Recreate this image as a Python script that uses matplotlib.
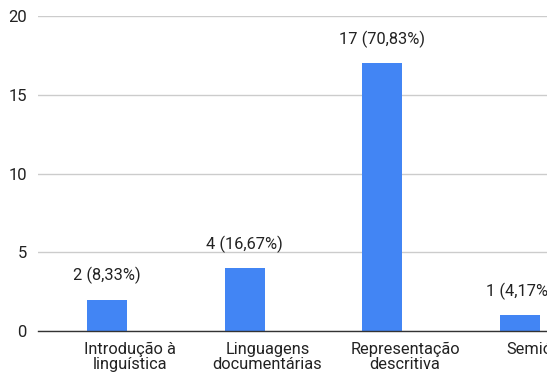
import matplotlib
matplotlib.use("Agg")
import matplotlib.pyplot as plt

categories = ["Introdução à\nlinguística", "Linguagens\ndocumentárias", "Representação\ndescritiva", "Semiótica"]
values = [2, 4, 17, 1]
labels = ["2 (8,33%)", "4 (16,67%)", "17 (70,83%)", "1 (4,17%)"]
yticks = [0, 5, 10, 15, 20]

plt.rcParams['font.family'] = ['Roboto', 'DejaVu Sans']

fig = plt.figure(figsize=(5.47, 3.79), dpi=100)
W, H = 547, 379
ax = fig.add_axes([38 / W, (H - 331) / H, 551 / W, 315 / H])

x = list(range(len(categories)))
label_shift = 0.165  # category labels sit right of the bars, as in the reference
ax.bar(x, values, width=0.29, color="#4285F4", zorder=3)
for xi, v, lab in zip(x, values, labels):
    ax.annotate(lab, (xi, v), xytext=(0, 11), textcoords="offset points",
                ha="center", va="bottom", fontsize=11.8, color="#222222")

ax.set_xlim(-0.5, len(categories) - 0.5)
ax.set_ylim(0, 20)
ax.set_yticks(yticks)
ax.set_xticks([xi + label_shift for xi in x])
ax.set_xticklabels(categories, fontsize=11.8, color="#222222", linespacing=1.0)
ax.tick_params(axis="y", length=0, pad=8, labelsize=12, labelcolor="#222222")
ax.tick_params(axis="x", length=0, pad=8)
ax.grid(axis="y", color="#cccccc", linewidth=1, zorder=0)
for s in ["top", "right", "left"]:
    ax.spines[s].set_visible(False)
ax.spines["bottom"].set_color("#333333")
ax.spines["bottom"].set_linewidth(1)
ax.spines["bottom"].set_zorder(4)

fig.savefig("out.png", dpi=100)
